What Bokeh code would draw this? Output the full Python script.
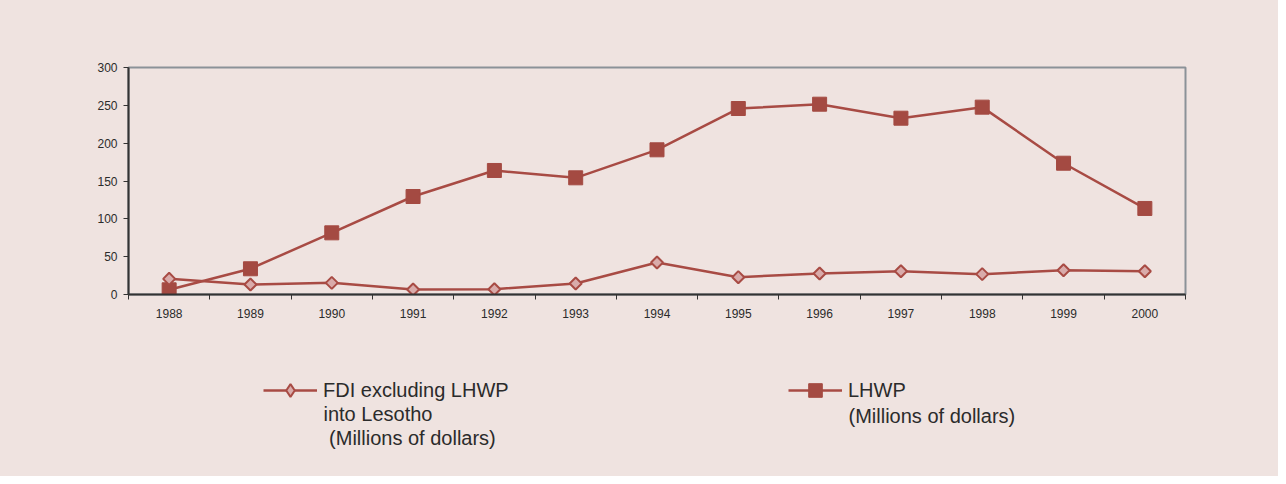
import math
from bokeh.plotting import figure
from bokeh.layouts import column
from bokeh.models import Range1d, FixedTicker, Legend, LegendItem, Label
from bokeh.embed import file_html
from bokeh.resources import INLINE

# ---- data ----
years = [1988, 1989, 1990, 1991, 1992, 1993, 1994, 1995, 1996, 1997, 1998, 1999, 2000]
fdi_excl_lhwp = [20.7, 13.2, 15.4, 6.6, 7.0, 14.5, 42.3, 22.9, 27.8, 30.8, 26.9, 32.1, 30.8]
lhwp = [6.2, 34.0, 81.5, 129.5, 163.9, 154.2, 191.2, 245.8, 251.5, 233.0, 247.6, 173.5, 113.7]
y_ticks = [0, 50, 100, 150, 200, 250, 300]
legend_fdi = ["FDI excluding LHWP", "into Lesotho", "\u00a0(Millions of dollars)"]
legend_lhwp = ["LHWP", "(Millions of dollars)"]

# ---- style ----
BG = "#efe3e0"
RED = "#a84b44"
RED_FILL = "#a44a42"
PINK = "#d9abaa"
TXT = "#2b2b2b"
FONT = "Liberation Sans"
W = 1278
H_TOP = 340
H_BOT = 136


def add_series(fig, legend_marker):
    r_l = fig.line(years, lhwp, line_color=RED, line_width=2.5)
    r_ls = fig.scatter(years, lhwp, marker="square", size=14, fill_color=RED_FILL,
                       line_color=RED_FILL, line_width=1)
    r_f = fig.line(years, fdi_excl_lhwp, line_color=RED, line_width=2.5)
    if legend_marker:
        r_fs = fig.scatter(years, fdi_excl_lhwp, marker="diamond", size=12,
                           fill_color=PINK, line_color=RED, line_width=2)
    else:
        r_fs = fig.scatter(years, fdi_excl_lhwp, marker="square", angle=math.pi / 4, size=8.5,
                           fill_color=PINK, line_color=RED, line_width=2)
    return r_l, r_ls, r_f, r_fs


# ---- main chart ----
p = figure(width=W, height=H_TOP, output_backend="svg", toolbar_location=None,
           x_range=Range1d(years[0] - 0.5, years[-1] + 0.5), y_range=Range1d(y_ticks[0], y_ticks[-1]),
           min_border_left=128, min_border_right=93, min_border_top=67, min_border_bottom=46,
           background_fill_color=None, border_fill_color=BG,
           outline_line_color="#8b9298", outline_line_width=2,
           styles={"background-color": BG})
p.xgrid.visible = False
p.ygrid.visible = False

xa = p.xaxis[0]
xa.ticker = FixedTicker(ticks=years, minor_ticks=[y - 0.5 for y in years] + [years[-1] + 0.5])
xa.major_label_overrides = {y: str(y) for y in years}
xa.major_tick_out = 0
xa.major_tick_in = 0
xa.minor_tick_out = 5
xa.minor_tick_in = 0
xa.minor_tick_line_color = "#333333"
xa.axis_line_color = "#333333"
xa.axis_line_width = 2
xa.major_label_standoff = 9
xa.major_label_text_font = FONT
xa.major_label_text_font_size = "12px"
xa.major_label_text_color = TXT

ya = p.yaxis[0]
ya.ticker = FixedTicker(ticks=y_ticks)
ya.minor_tick_out = 0
ya.minor_tick_in = 0
ya.major_tick_out = 5
ya.major_tick_in = 0
ya.major_tick_line_color = "#333333"
ya.axis_line_color = "#333333"
ya.axis_line_width = 2
ya.major_label_standoff = 6
ya.major_label_text_font = FONT
ya.major_label_text_font_size = "12px"
ya.major_label_text_color = TXT

add_series(p, False)

# ---- legend strip (same series, drawn outside its visible ranges; only the legend shows) ----
q = figure(width=W, height=H_BOT, output_backend="svg", toolbar_location=None,
           x_range=Range1d(0, 1), y_range=Range1d(0, 1), x_axis_type=None, y_axis_type=None,
           min_border=0, background_fill_color=None, border_fill_color=BG, outline_line_color=None,
           styles={"background-color": BG})
q.grid.visible = False
q_l, q_ls, q_f, q_fs = add_series(q, True)

common = dict(border_line_color=None, background_fill_alpha=0, padding=0, margin=0, spacing=0,
              glyph_width=54, label_standoff=6, label_text_font=FONT, label_text_font_size="20px",
              label_text_color=TXT)
# frame of this strip is aligned with the main chart's frame (left edge at x=128)
leg1 = Legend(items=[LegendItem(label=legend_fdi[0], renderers=[q_f, q_fs])],
              location=(135, 70), glyph_height=32, label_height=32, **common)
leg2 = Legend(items=[LegendItem(label=legend_lhwp[0], renderers=[q_l, q_ls])],
              location=(660, 69), glyph_height=34, label_height=34, **common)
q.add_layout(leg1)
q.add_layout(leg2)

lab_common = dict(x_units="screen", y_units="screen", text_baseline="middle", text_align="left",
                  text_font=FONT, text_font_size="20px", text_color=TXT)
q.add_layout(Label(x=195, y=62.7, text=legend_fdi[1], **lab_common))
q.add_layout(Label(x=195, y=38.2, text=legend_fdi[2], **lab_common))
q.add_layout(Label(x=720, y=60.2, text=legend_lhwp[1], **lab_common))

layout = column(p, q, spacing=0, styles={"background-color": BG})
open("out.html", "w").write(file_html(layout, INLINE))
